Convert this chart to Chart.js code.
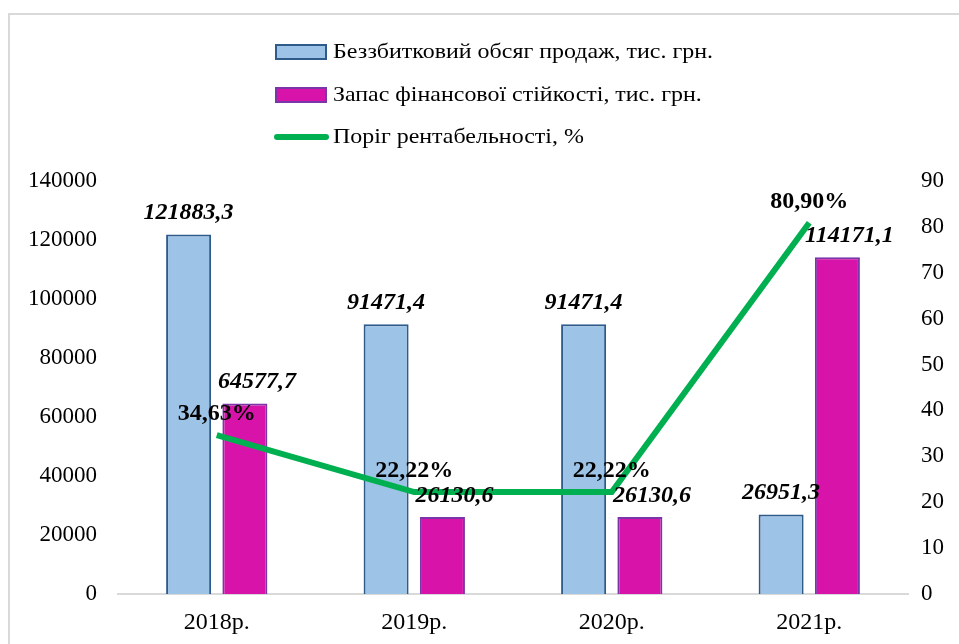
<!DOCTYPE html>
<html>
<head>
<meta charset="utf-8">
<script src="https://cdn.jsdelivr.net/npm/chart.js@4.4.1/dist/chart.umd.min.js"></script>
<style>
  body { margin: 0; background: #fff; }
  #frame { position: absolute; left: 8px; top: 13px; width: 1000px; height: 700px; border: 2px solid #d9d9d9; }
  #myChart { position: absolute; left: 0; top: 0; }
</style>
</head>
<body>
<div id="frame"></div>
<canvas id="myChart" width="959" height="644"></canvas>
<script>
const categories = ["2018р.", "2019р.", "2020р.", "2021р."];
const breakEvenSales = [121883.3, 91471.4, 91471.4, 26951.3];
const safetyMargin = [64577.7, 26130.6, 26130.6, 114171.1];
const profitThreshold = [34.63, 22.22, 22.22, 80.9];
const leftTicks = [0, 20000, 40000, 60000, 80000, 100000, 120000, 140000];
const rightTicks = [0, 10, 20, 30, 40, 50, 60, 70, 80, 90];

const serif = "'Liberation Serif', 'Times New Roman', serif";

//Legend drawn by hand so the items stack
const legendPlugin = {
  id: "stackLegend",
  afterDraw(chart) {
    const c = chart.ctx;
    const rows = [52, 95, 137];
    c.save();
    c.textBaseline = "middle";
    chart.data.datasets.forEach((ds, i) => {
      const y = rows[i];
      if (ds.type === "line") {
        c.strokeStyle = ds.borderColor;
        c.lineWidth = 6;
        c.lineCap = "round";
        c.beginPath();
        c.moveTo(277, y);
        c.lineTo(326, y);
        c.stroke();
      } else {
        c.fillStyle = ds.backgroundColor;
        c.fillRect(276, y - 7, 50, 14);
        c.strokeStyle = ds.borderColor;
        c.lineWidth = 2;
        c.strokeRect(276, y - 7, 50, 14);
      }
      //text is a bit wider in the original, stretch it
      c.save();
      c.translate(333, y);
      c.scale(1.14, 1);
      c.font = "21px " + serif;
      c.fillStyle = "#000";
      c.fillText(ds.label, 0, 0);
      c.restore();
    });
    c.restore();
  },
};

//Value labels above bars and points
const labelPlugin = {
  id: "valueLabels",
  afterDatasetsDraw(chart) {
    const c = chart.ctx;
    c.save();
    c.textAlign = "center";
    c.textBaseline = "alphabetic";
    c.fillStyle = "#000";
    chart.data.datasets.forEach((ds, i) => {
      const meta = chart.getDatasetMeta(i);
      meta.data.forEach((el, j) => {
        const v = ds.data[j];
        if (ds.type === "line") {
          c.font = "bold 24px " + serif;
          c.fillText(v.toFixed(2).replace(".", ",") + "%", el.x, el.y - 15);
        } else {
          c.font = "italic bold 24px " + serif;
          const dx = i === 1 ? 12 : 0;
          c.fillText(v.toFixed(1).replace(".", ","), el.x + dx, el.y - 15);
        }
      });
    });
    c.restore();
  },
};

const ctx = document.getElementById("myChart");

new Chart(ctx, {
  data: {
    labels: categories,
    datasets: [
      {
        type: "bar",
        label: "Беззбитковий обсяг продаж, тис. грн.",
        data: breakEvenSales,
        backgroundColor: "#9dc3e6",
        borderColor: "#2e5b8a",
        borderWidth: 2,
        yAxisID: "y",
        order: 2,
        categoryPercentage: 0.57,
        barPercentage: 0.8,
      },
      {
        type: "bar",
        label: "Запас фінансової стійкості, тис. грн.",
        data: safetyMargin,
        backgroundColor: "#d813aa",
        borderColor: "#7a35a8",
        borderWidth: 2,
        yAxisID: "y",
        order: 2,
        categoryPercentage: 0.57,
        barPercentage: 0.8,
      },
      {
        type: "line",
        label: "Поріг рентабельності, %",
        data: profitThreshold,
        borderColor: "#00b050",
        backgroundColor: "#00b050",
        borderWidth: 6,
        pointRadius: 0,
        tension: 0,
        yAxisID: "y1",
        order: 0,
      },
    ],
  },
  options: {
    responsive: false,
    animation: false,
    devicePixelRatio: 1,
    layout: {
      padding: { top: 181, left: 0, right: 0, bottom: 0 },
    },
    plugins: {
      legend: { display: false },
      tooltip: { enabled: false },
    },
    scales: {
      x: {
        grid: { display: false, drawTicks: false },
        border: { display: true, color: "#d9d9d9", width: 2 },
        ticks: { color: "#000", font: { family: serif, size: 24 }, padding: 14 },
        afterFit: (s) => { s.height = 50; },
      },
      y: {
        position: "left",
        min: 0,
        max: 140000,
        grid: { display: false, drawTicks: false },
        border: { display: false },
        afterBuildTicks: (s) => { s.ticks = leftTicks.map((v) => ({ value: v })); },
        ticks: {
          color: "#000",
          font: { family: serif, size: 23 },
          padding: 21,
          callback: (v) => String(v),
        },
        afterFit: (s) => { s.width = 118; },
      },
      y1: {
        position: "right",
        min: 0,
        max: 90,
        grid: { display: false, drawTicks: false },
        border: { display: false },
        afterBuildTicks: (s) => { s.ticks = rightTicks.map((v) => ({ value: v })); },
        ticks: {
          color: "#000",
          font: { family: serif, size: 23 },
          padding: 13,
          callback: (v) => String(v),
        },
        afterFit: (s) => { s.width = 51; },
      },
    },
  },
  plugins: [legendPlugin, labelPlugin],
});
</script>
</body>
</html>
